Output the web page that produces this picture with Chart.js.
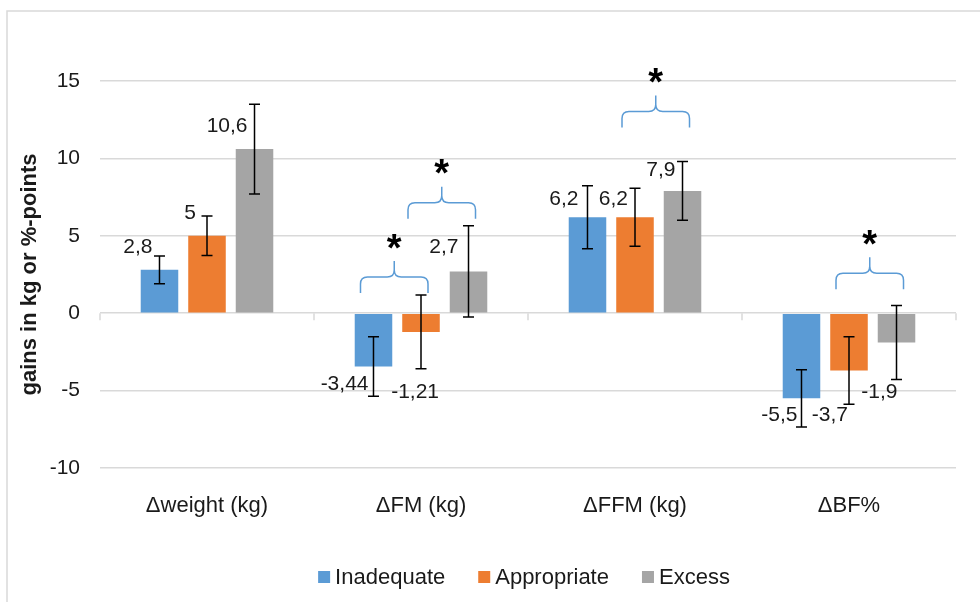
<!DOCTYPE html>
<html>
<head>
<meta charset="utf-8">
<script src="https://cdn.jsdelivr.net/npm/chart.js@4.4.1/dist/chart.umd.min.js"></script>
<style>
  html, body { margin: 0; padding: 0; background: #fff; }
  #wrap { width: 980px; height: 602px; }
</style>
</head>
<body>
<div id="wrap"><canvas id="chart" width="980" height="602"></canvas></div>
<script>
// datos del grafico
const categories = ['Δweight (kg)', 'ΔFM (kg)', 'ΔFFM (kg)', 'ΔBF%'];
const seriesNames = ['Inadequate', 'Appropriate', 'Excess'];
const inadequate = [2.8, -3.44, 6.2, -5.5];
const appropriate = [5, -1.21, 6.2, -3.7];
const excess = [10.6, 2.7, 7.9, -1.9];
const inadequateErr = [0.9, 1.92, 2.03, 1.85];
const appropriateErr = [1.28, 2.38, 1.87, 2.18];
const excessErr = [2.9, 2.95, 1.9, 2.39];
const yTicks = [-10, -5, 0, 5, 10, 15];

// llaves de significancia: categoria, serie inicial, serie final, valor donde tocan las puntas
const sigCategory = [1, 1, 2, 3];
const sigFrom = [0, 1, 1, 1];
const sigTo = [1, 2, 2, 2];
const sigLevel = [1.3, 6.1, 12.0, 1.55];

// ajuste manual de las etiquetas (px, relativo al centro de la barra / extremo de la barra)
const labelNudge = [
    [[-7, -23], [-5, 18], [-9, -18], [-4, 17]],
    [[-11, -23], [18, 60], [-7, -18], [-1, 45]],
    [[-7, -23], [-10, -24], [-7, -21], [1, 50]]
];

const FONT = '"Liberation Sans", Arial, sans-serif';
const TXT = '#1a1a1a';
const colors = ['#5B9BD5', '#ED7D31', '#A5A5A5'];

const fmt = v => String(v).replace('.', ',');

const extras = {
    id: 'extras',
    beforeDraw(chart) {
        const ctx = chart.ctx;
        ctx.save();
        ctx.strokeStyle = '#d9d9d9';
        ctx.lineWidth = 1.5;
        ctx.strokeRect(7, 11, 1200, 1200);
        ctx.restore();
    },
    afterDatasetsDraw(chart) {
        const { ctx, chartArea, scales: { x, y } } = chart;
        ctx.save();

        // marcas del eje en cero
        const step = (chartArea.right - chartArea.left) / categories.length;
        const y0 = y.getPixelForValue(0);
        ctx.strokeStyle = '#d9d9d9';
        ctx.lineWidth = 1.5;
        for (let i = 0; i <= categories.length; i++) {
            const bx = chartArea.left + i * step;
            ctx.beginPath();
            ctx.moveTo(bx, y0);
            ctx.lineTo(bx, y0 + 7);
            ctx.stroke();
        }

        // barras de error
        ctx.strokeStyle = '#000';
        ctx.lineWidth = 1.5;
        chart.data.datasets.forEach((ds, di) => {
            const meta = chart.getDatasetMeta(di);
            meta.data.forEach((bar, i) => {
                const v = ds.data[i], e = ds.errors[i];
                const yHi = y.getPixelForValue(v + e);
                const yLo = y.getPixelForValue(v - e);
                ctx.beginPath();
                ctx.moveTo(bar.x, yHi); ctx.lineTo(bar.x, yLo);
                ctx.moveTo(bar.x - 5.5, yHi); ctx.lineTo(bar.x + 5.5, yHi);
                ctx.moveTo(bar.x - 5.5, yLo); ctx.lineTo(bar.x + 5.5, yLo);
                ctx.stroke();
            });
        });

        // etiquetas de datos
        ctx.fillStyle = TXT;
        ctx.font = '21px ' + FONT;
        ctx.textAlign = 'right';
        ctx.textBaseline = 'middle';
        chart.data.datasets.forEach((ds, di) => {
            const meta = chart.getDatasetMeta(di);
            meta.data.forEach((bar, i) => {
                const [dx, dy] = labelNudge[di][i];
                ctx.fillText(fmt(ds.data[i]), bar.x + dx, bar.y + dy);
            });
        });

        // llaves y asteriscos
        sigCategory.forEach((c, k) => {
            const a = chart.getDatasetMeta(sigFrom[k]).data[c];
            const b = chart.getDatasetMeta(sigTo[k]).data[c];
            const L = a.x - 13, R = b.x + 7, M = (L + R) / 2;
            const tip = y.getPixelForValue(sigLevel[k]);
            const line = tip - 16, peak = tip - 32, r = 7;
            ctx.strokeStyle = '#5B9BD5';
            ctx.lineWidth = 1.5;
            ctx.beginPath();
            ctx.moveTo(L, tip);
            ctx.lineTo(L, line + r);
            ctx.quadraticCurveTo(L, line, L + r, line);
            ctx.lineTo(M - r, line);
            ctx.quadraticCurveTo(M, line, M, line - r);
            ctx.lineTo(M, peak);
            ctx.moveTo(M, line - r);
            ctx.quadraticCurveTo(M, line, M + r, line);
            ctx.lineTo(R - r, line);
            ctx.quadraticCurveTo(R, line, R, line + r);
            ctx.lineTo(R, tip);
            ctx.stroke();

            ctx.font = 'bold 38px ' + FONT;
            ctx.textAlign = 'center';
            ctx.textBaseline = 'alphabetic';
            const m = ctx.measureText('*');
            const gc = (m.actualBoundingBoxAscent - m.actualBoundingBoxDescent) / 2;
            ctx.fillStyle = '#000';
            ctx.fillText('*', M, peak - 20 + gc);
        });
        ctx.restore();
    },
    afterDraw(chart) {
        // leyenda propia (cuadro pequeño + texto)
        const { ctx, chartArea } = chart;
        ctx.save();
        ctx.font = '22px ' + FONT;
        const items = chart.data.datasets.map(ds => ({
            label: ds.label, color: ds.backgroundColor, w: ctx.measureText(ds.label).width
        }));
        const box = 12, gapIn = 5, gapOut = 33;
        const total = items.reduce((s, it) => s + box + gapIn + it.w, 0) + gapOut * (items.length - 1);
        let px = (chartArea.left + chartArea.right) / 2 - total / 2 - 4;
        const cy = chart.height - 25;
        ctx.textAlign = 'left';
        ctx.textBaseline = 'middle';
        items.forEach(it => {
            ctx.fillStyle = it.color;
            ctx.fillRect(px, cy - box / 2, box, box);
            ctx.fillStyle = TXT;
            ctx.fillText(it.label, px + box + gapIn, cy + 1);
            px += box + gapIn + it.w + gapOut;
        });
        ctx.restore();
    }
};

const series = [inadequate, appropriate, excess];
const errs = [inadequateErr, appropriateErr, excessErr];

new Chart(document.getElementById('chart'), {
    type: 'bar',
    data: {
        labels: categories,
        datasets: seriesNames.map((name, i) => ({
            label: name,
            data: series[i],
            errors: errs[i],
            backgroundColor: colors[i],
            borderWidth: 0,
            categoryPercentage: 0.666,
            barPercentage: 0.79
        }))
    },
    options: {
        responsive: false,
        animation: false,
        layout: { padding: { left: 10, right: 24, top: 81, bottom: 84 } },
        plugins: { legend: { display: false }, tooltip: { enabled: false } },
        scales: {
            x: {
                grid: { display: false },
                border: { display: false },
                ticks: { color: TXT, font: { family: FONT, size: 22 }, padding: 17, maxRotation: 0 },
                afterFit: s => { s.height = 50; }
            },
            y: {
                min: yTicks[0],
                max: yTicks[yTicks.length - 1],
                afterBuildTicks: s => { s.ticks = yTicks.map(v => ({ value: v })); },
                grid: { color: '#d9d9d9', lineWidth: 1.5, drawTicks: false },
                border: { display: false },
                ticks: { color: TXT, font: { family: FONT, size: 21 }, padding: 20 },
                title: {
                    display: true,
                    text: 'gains in kg or %-points',
                    color: TXT,
                    font: { family: FONT, size: 22, weight: 'bold' },
                    padding: { top: 7, bottom: 0 }
                },
                afterFit: s => { s.width = 90; }
            }
        }
    },
    plugins: [extras]
});
</script>
</body>
</html>
